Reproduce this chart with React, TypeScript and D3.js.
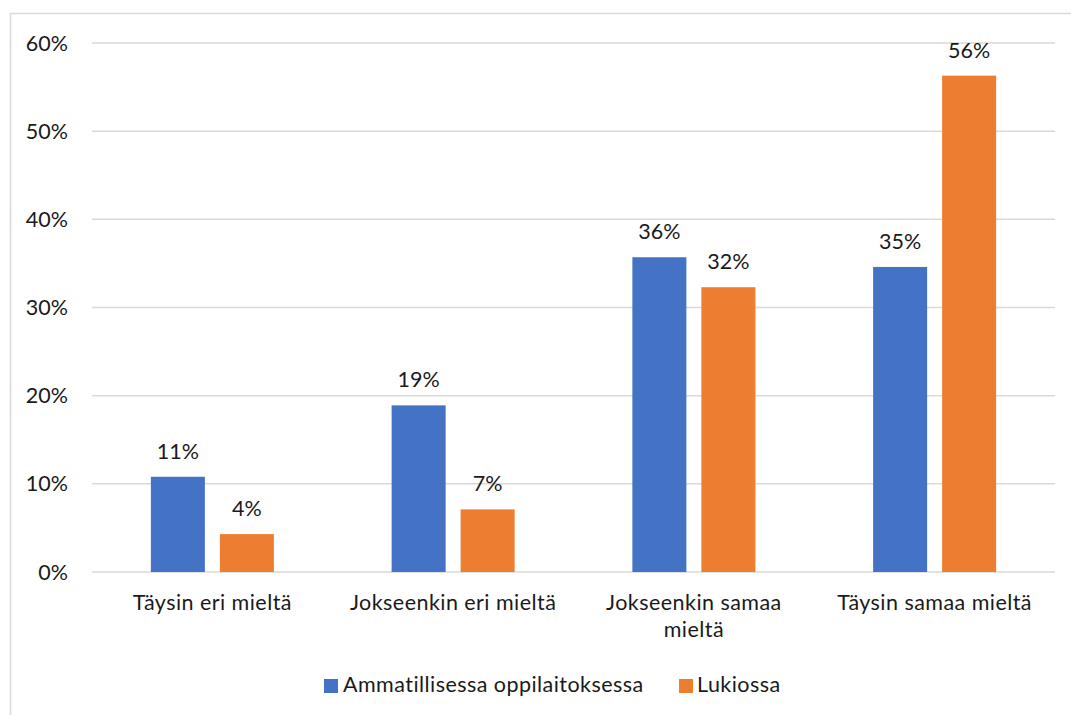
import React from "react";
import * as d3 from "d3";

const categories = [
  ["Täysin eri mieltä"],
  ["Jokseenkin eri mieltä"],
  ["Jokseenkin samaa", "mieltä"],
  ["Täysin samaa mieltä"],
];
const seriesNames = ["Ammatillisessa oppilaitoksessa", "Lukiossa"];
const ammatillinen = [10.8, 18.9, 35.7, 34.6];
const lukio = [4.3, 7.1, 32.3, 56.3];
const labelsA = ["11%", "19%", "36%", "35%"];
const labelsL = ["4%", "7%", "32%", "56%"];
const yTicks = [0, 10, 20, 30, 40, 50, 60];
const colors = ["#4472C4", "#ED7D31"];

const W = 1071;
const H = 715;
const FONT = "Lato, 'Open Sans', sans-serif";
const FS = 21.5;
const FS_TXT = 21.5;
const LS = 0.45;

export default function App() {
  const x0 = 92, x1 = 1055, yTop = 43, yBot = 572;
  const x = d3.scaleBand<number>().domain(d3.range(categories.length)).range([x0, x1]);
  const y = d3.scaleLinear().domain([0, 60]).range([yBot, yTop]);
  const barW = 54;
  const gap = 15;
  const series = [ammatillinen, lukio];
  const labels = [labelsA, labelsL];
  return (
    <svg width={W} height={H} style={{ position: "absolute", left: 0, top: 0, fontFamily: FONT }}>
      <rect x={0} y={0} width={W} height={H} fill="#fff" />
      <rect x={10.5} y={13.5} width={1070} height={720} fill="#fff" stroke="#d9d9d9" strokeWidth={1.5} />
      {yTicks.map((t) => (
        <g key={t}>
          <line x1={x0} x2={x1} y1={y(t)} y2={y(t)} stroke="#d9d9d9" strokeWidth={1.5} />
          <text x={68} y={y(t)} dy="0.35em" textAnchor="end" fontSize={FS} fill="#1a1a1a">
            {t}%
          </text>
        </g>
      ))}
      {categories.map((c, i) => {
        const cx = (x(i) as number) + x.bandwidth() / 2;
        return (
          <g key={i}>
            {series.map((s, k) => {
              const bx = k === 0 ? cx - gap / 2 - barW : cx + gap / 2;
              return (
                <g key={k}>
                  <rect x={bx} y={y(s[i])} width={barW} height={yBot - y(s[i])} fill={colors[k]} />
                  <text x={bx + barW / 2} y={y(s[i]) - 18} textAnchor="middle" fontSize={FS} fill="#1a1a1a">
                    {labels[k][i]}
                  </text>
                </g>
              );
            })}
            {c.map((line, j) => (
              <text key={j} x={cx} y={610 + j * 27} textAnchor="middle" fontSize={FS_TXT} letterSpacing={LS} fill="#1a1a1a">
                {line}
              </text>
            ))}
          </g>
        );
      })}
      <g>
        <rect x={324} y={679} width={14} height={14} fill={colors[0]} />
        <text x={343} y={692} fontSize={FS_TXT} letterSpacing={LS} fill="#1a1a1a">{seriesNames[0]}</text>
        <rect x={679} y={679} width={14} height={14} fill={colors[1]} />
        <text x={697} y={692} fontSize={FS_TXT} letterSpacing={LS} fill="#1a1a1a">{seriesNames[1]}</text>
      </g>
    </svg>
  );
}
